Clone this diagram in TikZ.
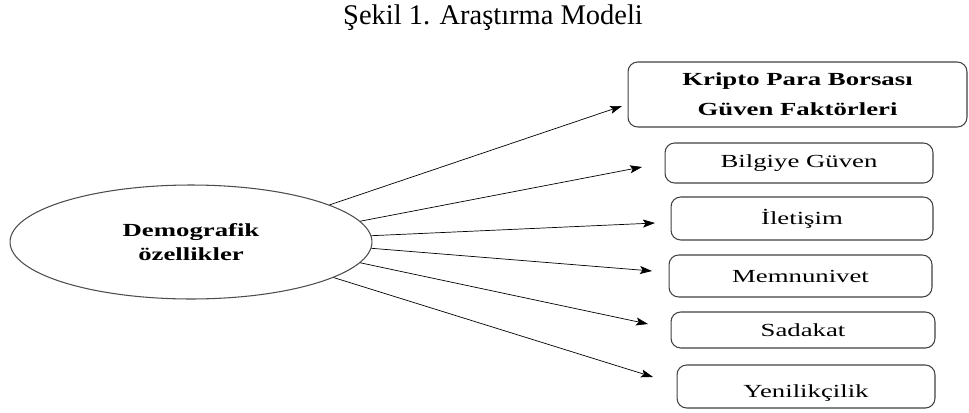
\documentclass[tikz,border=0pt]{standalone}
\usepackage{fontspec}
\setmainfont[FakeStretch=1.45]{Liberation Serif}
\newfontfamily\captionfont{Liberation Serif}
\usetikzlibrary{arrows.meta}
\usetikzlibrary{shapes.geometric}

\tikzset{
  factor/.style={draw=black!75, rounded corners=5.5pt, line width=0.6pt, inner sep=0pt,
    font=\fontsize{10.5}{12}\selectfont},
}

\begin{document}
\begin{tikzpicture}[x=0.02cm, y=-0.02cm, >={Stealth[length=2.4mm,width=1.6mm,inset=0.5mm]}]
    \useasboundingbox (0,0) rectangle (969,412);
    \node[anchor=base] (title) at (493,25) {\captionfont\fontsize{16.2}{18}\selectfont Şekil 1. Araştırma Modeli};
    \node[draw=black!70, ellipse, line width=0.6pt, minimum width=7.24cm, minimum height=2.28cm,
      align=center, font=\bfseries\fontsize{10.5}{14}\selectfont] (D) at (191,242) {Demografik\\özellikler};
    \node[factor, minimum width=6.78cm, minimum height=1.3cm, align=center,
      font=\bfseries\fontsize{10.5}{17}\selectfont] (K) at (797.5,94.5) {Kripto Para Borsası\\Güven Faktörleri};
    \node[factor, minimum width=5.36cm, minimum height=0.8cm] (B) at (799,163) {Bilgiye Güven};
    \node[factor, minimum width=5.24cm, minimum height=0.86cm] (I) at (802,218.5) {İletişim};
    \node[factor, minimum width=5.26cm, minimum height=0.84cm] (M) at (800.5,276) {Memnunivet};
    \node[factor, minimum width=5.28cm, minimum height=0.72cm] (S) at (803,330) {Sadakat};
    \node[factor, minimum width=5.16cm, minimum height=0.86cm, text height=0.5cm, text depth=0.05cm] (Y) at (806,386.5) {Yenilikçilik};
    \coordinate (eK) at (622,106);
    \coordinate (eB) at (642,167);
    \coordinate (eI) at (655,223);
    \coordinate (eM) at (652,271);
    \coordinate (eS) at (648,324);
    \coordinate (eY) at (653,377);
    \path [->] (D.15) edge (eK);
    \path [->] (D.7.6) edge (eB);
    \path [->] (D.2.8) edge (eI);
    \path [->] (D.-2.2) edge (eM);
    \path [->] (D.-7.3) edge (eS);
    \path [->] (D.-14.2) edge (eY);
  \end{tikzpicture}
\end{document}
